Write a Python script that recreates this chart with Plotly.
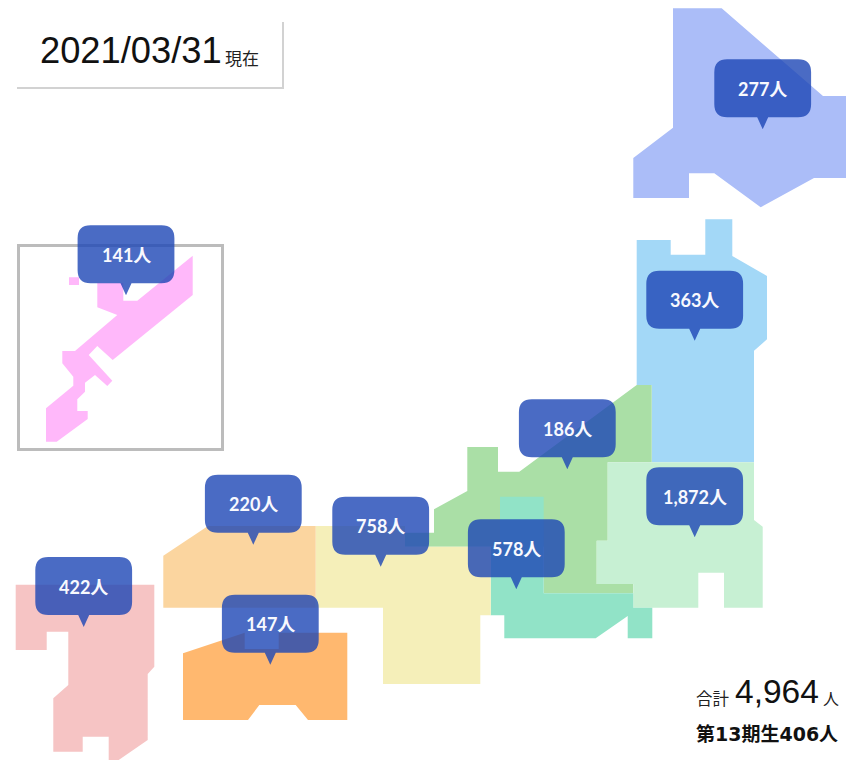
import plotly.graph_objects as go

# Region outlines (map units equal picture pixels)
hokkaido_x = [673, 721.7, 823, 846, 846, 814, 760.7, 714.3, 689, 689, 633.3, 633.3, 673]
hokkaido_y = [8.3, 8.3, 96, 96, 178, 178, 207.3, 173.3, 173.3, 198, 198, 158, 127.7]
tohoku_x = [636.7, 670.7, 670.7, 705.3, 705.3, 732.3, 732.3, 767, 767, 754, 754, 651.7, 651.7, 636.7]
tohoku_y = [240, 240, 254.7, 254.7, 219.3, 219.3, 256, 276, 339.3, 350.7, 462.3, 462.3, 385, 385]
chubu_x = [636.7, 651.7, 651.7, 607.7, 607.7, 596.7, 596.7, 633.3, 633.3, 543.7, 543.7, 405, 405, 434, 434, 467.3, 467.3, 498, 498, 519.3]
chubu_y = [385, 385, 462.3, 462.3, 540.7, 540.7, 584, 584, 593.3, 593.3, 546.7, 546.7, 532.7, 532.7, 509.3, 491, 447, 447, 471.7, 471.7]
kanto_x = [607.7, 754, 754, 762.7, 762.7, 724, 724, 698.3, 698.3, 633.3, 633.3, 596.7, 596.7, 607.7]
kanto_y = [462.3, 462.3, 520, 526.7, 607.7, 607.7, 572.7, 572.7, 607.7, 607.7, 584, 584, 540.7, 540.7]
tokai_x = [500, 543.7, 543.7, 633.3, 633.3, 652.3, 652.3, 627.7, 627.7, 595.7, 504.3, 504.3, 490.7, 490.7, 500]
tokai_y = [496.7, 496.7, 593.3, 593.3, 607.7, 607.7, 638.3, 638.3, 616, 638.3, 638.3, 615.3, 615.3, 546.7, 546.7]
kinki_x = [315.7, 405, 405, 490.7, 490.7, 480.3, 480.3, 383, 383, 315.7]
kinki_y = [526, 526, 546.7, 546.7, 615.3, 615.3, 684, 684, 607.7, 607.7]
chugoku_x = [163.3, 208, 315.7, 315.7, 163.3]
chugoku_y = [555.7, 526, 526, 607.7, 607.7]
shikoku_x = [183, 244.7, 244.7, 278.7, 278.7, 347.3, 347.3, 308, 295.7, 259.3, 248, 183]
shikoku_y = [653.3, 632.7, 649, 649, 632.7, 632.7, 720, 720, 705, 705, 720, 720]
kyushu_x = [15.7, 154.3, 154.3, 147.7, 147.7, 118.7, 108.7, 108.7, 82.7, 82.7, 53.3, 53.3, 68.3, 68.3, 46.7, 46.7, 15.7]
kyushu_y = [584.7, 584.7, 666.7, 674, 740, 760, 760, 736.7, 736.7, 751.7, 751.7, 698.3, 685, 631.7, 631.7, 650, 650]
okinawa_x = [192.7, 192.7, 112.7, 97.3, 88.7, 112.3, 107.3, 95, 85, 85, 77.3, 77.3, 87.7, 87.7, 56.7, 46, 46, 73.3, 73.3, 62.3, 62.3, 75, 117.3, 97.3, 97.3, 123.3, 123.3, 137.3, None, 69, 79, 79, 69]
okinawa_y = [255.7, 295, 360, 346, 355, 380.7, 386, 375, 382.7, 391.7, 399.3, 411, 411, 419, 441.7, 441.7, 408.3, 385.7, 376.7, 363.3, 351, 351, 315, 307.3, 283, 283, 300.7, 300.7, None, 277.3, 277.3, 285, 285]

region_outlines = [
    (hokkaido_x, hokkaido_y, "#abbdf8"),
    (tohoku_x, tohoku_y, "#a3d8f7"),
    (chubu_x, chubu_y, "#aadfa6"),
    (kanto_x, kanto_y, "#c7f0d3"),
    (tokai_x, tokai_y, "#91e3c7"),
    (kinki_x, kinki_y, "#f5efb9"),
    (chugoku_x, chugoku_y, "#fbd59f"),
    (shikoku_x, shikoku_y, "#ffb86f"),
    (kyushu_x, kyushu_y, "#f6c4c4"),
    (okinawa_x, okinawa_y, "#ffb8fa"),
]

# Callouts: member counts and the point of each pointer
counts = [277, 363, 186, 1872, 578, 758, 220, 147, 422, 141]
tip_x = [762.7, 694.7, 567.3, 694.7, 516.3, 380.7, 253.3, 270.3, 83.7, 126]
tip_y = [129.3, 340.7, 469.3, 537.3, 589.3, 566.7, 544.7, 664.7, 627, 295.3]

date_text = "2021/03/31"
date_suffix = "現在"
total_label = "合計"
total_value = "4,964"
unit = "人"
cohort_text = "第13期生406人"

BOX_W, BOX_H, POINT, RADIUS, HALF_BASE = 96.8, 58, 12, 13, 5.5
BLUE = "rgba(29,70,181,0.8)"


def callout_path(x, y):
    bottom = y - POINT
    top = bottom - BOX_H
    left, right = x - BOX_W / 2, x + BOX_W / 2
    r = RADIUS
    return (
        f"M {left + r} {top} L {right - r} {top} Q {right} {top} {right} {top + r} "
        f"L {right} {bottom - r} Q {right} {bottom} {right - r} {bottom} "
        f"L {x + HALF_BASE} {bottom} L {x} {y} L {x - HALF_BASE} {bottom} "
        f"L {left + r} {bottom} Q {left} {bottom} {left} {bottom - r} "
        f"L {left} {top + r} Q {left} {top} {left + r} {top} Z"
    )


fig = go.Figure()
for xs, ys, colour in region_outlines:
    fig.add_trace(go.Scatter(
        x=xs, y=ys, mode="lines", fill="toself", fillcolor=colour,
        line=dict(width=0, color=colour), hoverinfo="skip", showlegend=False,
    ))

shapes = [
    dict(type="rect", xref="x", yref="y", x0=18.5, x1=222.5, y0=245.5, y1=449.5,
         line=dict(color="#bcbcbc", width=3), layer="below"),
    dict(type="line", xref="x", yref="y", x0=17, x1=283.5, y0=88, y1=88,
         line=dict(color="#d2d2d2", width=2), layer="below"),
    dict(type="line", xref="x", yref="y", x0=283, x1=283, y0=22, y1=89,
         line=dict(color="#d2d2d2", width=2), layer="below"),
]
shapes += [
    dict(type="path", xref="x", yref="y", path=callout_path(x, y),
         fillcolor=BLUE, line=dict(width=0), layer="above")
    for x, y in zip(tip_x, tip_y)
]

annotations = [
    dict(x=x, y=y - POINT - BOX_H / 2 + 0.5, xref="x", yref="y", text=f"{c:,}{unit}",
         showarrow=False, xanchor="center", yanchor="middle",
         font=dict(family="Lato, 'Noto Sans CJK JP'", size=18, color="#f8f9fe", weight="bold"))
    for c, x, y in zip(counts, tip_x, tip_y)
]


def note(text, x, y, size, family, anchor="left", weight="normal", colour="#111111"):
    return dict(x=x, y=y, xref="x", yref="y", text=text, showarrow=False,
                xanchor=anchor, yanchor="middle",
                font=dict(family=family, size=size, color=colour, weight=weight))


annotations += [
    note(date_text, 38, 50, 36.3, "Liberation Sans"),
    note(date_suffix, 223, 57, 17, "Noto Sans CJK JP", colour="#222222"),
    note(total_label, 693.5, 698, 16.5, "Noto Sans CJK JP", colour="#222222"),
    note(total_value, 733, 691, 33.5, "Liberation Sans"),
    note(unit, 820.5, 698, 16, "Noto Sans CJK JP", colour="#222222"),
    note(cohort_text, 693.5, 734, 19, "'DejaVu Sans', 'Noto Sans CJK JP'", weight="bold"),
]

fig.update_layout(
    width=846, height=760, autosize=False,
    margin=dict(l=0, r=0, t=0, b=0),
    paper_bgcolor="white", plot_bgcolor="white",
    xaxis=dict(range=[0, 846], visible=False, fixedrange=True),
    yaxis=dict(range=[760, 0], visible=False, fixedrange=True),
    shapes=shapes, annotations=annotations, showlegend=False,
)

fig.write_html(
    "out.html",
    config=dict(displayModeBar=False),
    post_script="document.body.style.margin='0';document.body.style.overflow='hidden';",
)
